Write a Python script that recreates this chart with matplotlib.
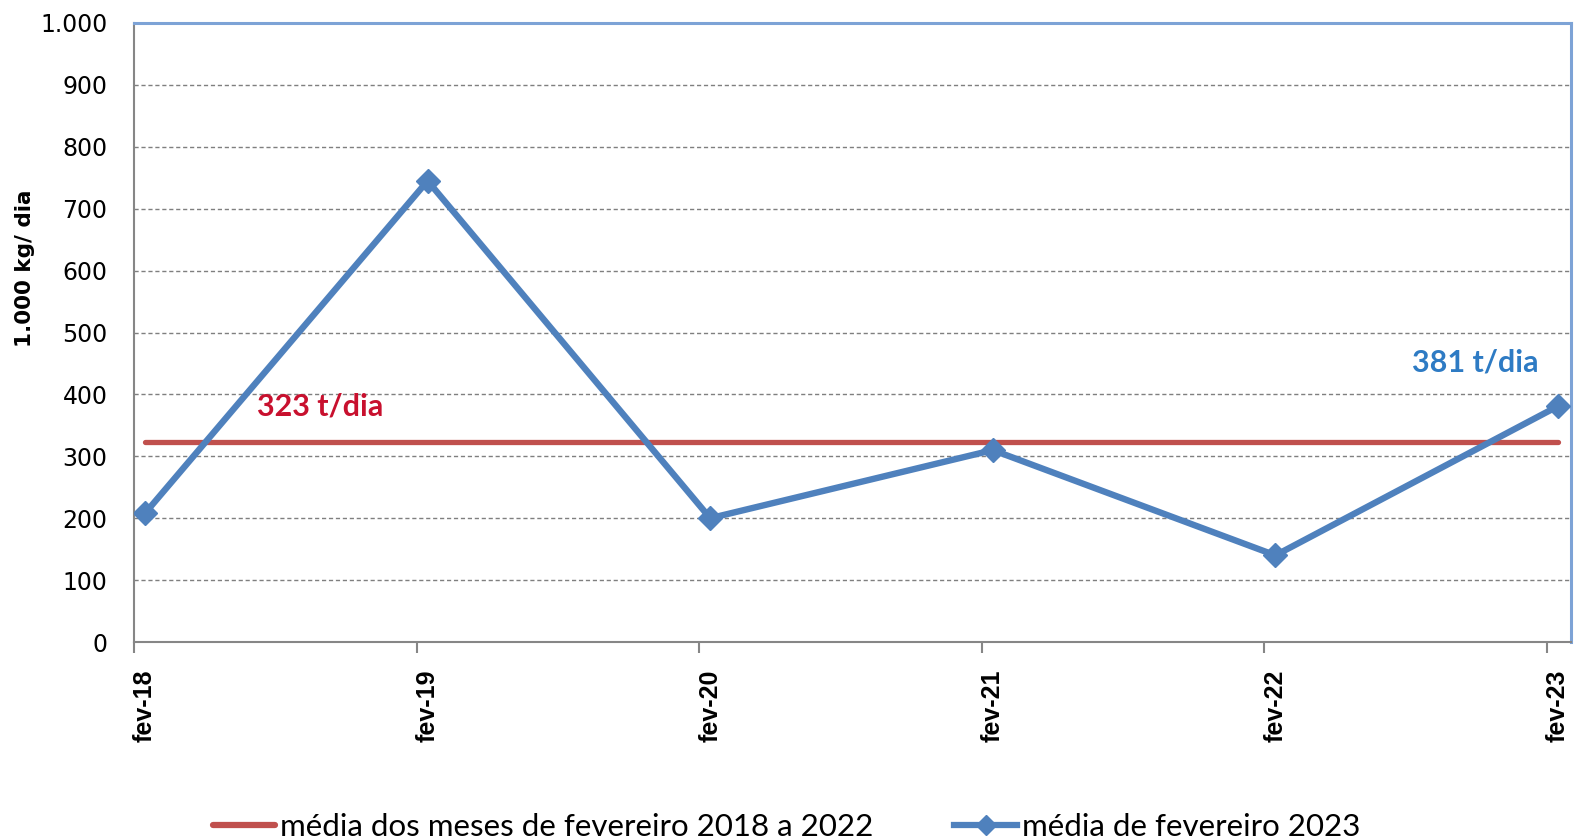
import matplotlib
matplotlib.use("Agg")
import matplotlib.pyplot as plt
from matplotlib.lines import Line2D

categories = ["fev-18", "fev-19", "fev-20", "fev-21", "fev-22", "fev-23"]
values_2023 = [208, 745, 200, 310, 140, 381]
media_2018_2022 = [323, 323, 323, 323, 323, 323]
label_media = "média dos meses de fevereiro 2018 a 2022"
label_2023 = "média de fevereiro 2023"
y_ticks = [0, 100, 200, 300, 400, 500, 600, 700, 800, 900, 1000]
y_tick_labels = ["0", "100", "200", "300", "400", "500", "600", "700", "800", "900", "1.000"]

BLUE = "#4F81BD"
RED = "#C0504D"

fig = plt.figure(figsize=(15.74, 8.39), dpi=100)
ax = fig.add_axes([134 / 1574, 1 - 642 / 839, (1571 - 134) / 1574, (642 - 23) / 839])

x = list(range(len(categories)))
ax.plot(x, media_2018_2022, color=RED, lw=3.8, solid_capstyle="round", zorder=3)
ax.plot(x, values_2023, color=BLUE, lw=4.6, marker="D", markersize=12,
        solid_joinstyle="miter", zorder=4)

ax.set_xlim(-0.039, 5.046)
ax.set_ylim(0, 1000)

ax.set_yticks(y_ticks)
ax.set_yticklabels(y_tick_labels, fontsize=17, family="DejaVu Sans", color="black")
ax.tick_params(axis="y", length=0, pad=19)

ax.set_xticks(x)
ax.set_xticklabels(categories, rotation=90, fontsize=18, fontweight="bold",
                   family="Liberation Sans")
ax.tick_params(axis="x", which="major", length=0, pad=20)
ax.set_xticks([i - 0.039 for i in x], minor=True)
ax.tick_params(axis="x", which="minor", length=8, width=1.5, color="#868686")

for yv in y_ticks[1:-1]:
    ax.axhline(yv, color="#7f7f7f", lw=1.0, ls=(0, (3, 2)), zorder=1)

for s in ["left", "bottom"]:
    ax.spines[s].set_color("#868686")
    ax.spines[s].set_linewidth(1.5)
for s in ["top", "right"]:
    ax.spines[s].set_color("#7DA3D6")
    ax.spines[s].set_linewidth(2.2)

ax.text(0.396, 380, "323 t/dia", color="#C8102E", fontsize=22, fontweight="bold",
        family="Lato", ha="left", va="center")
ax.text(4.483, 451, "381 t/dia", color="#2E7BC4", fontsize=22, fontweight="bold",
        family="Lato", ha="left", va="center")

fig.text(0.0159, 0.6806, "1.000 kg/ dia", rotation=90, fontsize=15.5, fontweight="bold",
         family="DejaVu Sans", ha="center", va="center")

handles = [Line2D([], [], color=RED, lw=4.5, solid_capstyle="round"),
           Line2D([], [], color=BLUE, lw=4.5, marker="D", markersize=10)]
fig.legend(handles, [label_media, label_2023], loc="center", ncol=2,
           bbox_to_anchor=(0.4995, 0.014), frameon=False,
           prop={"family": "Lato", "size": 22.5}, handlelength=2.0,
           handletextpad=0.15, columnspacing=2.6)

fig.savefig("out.png", dpi=100)
